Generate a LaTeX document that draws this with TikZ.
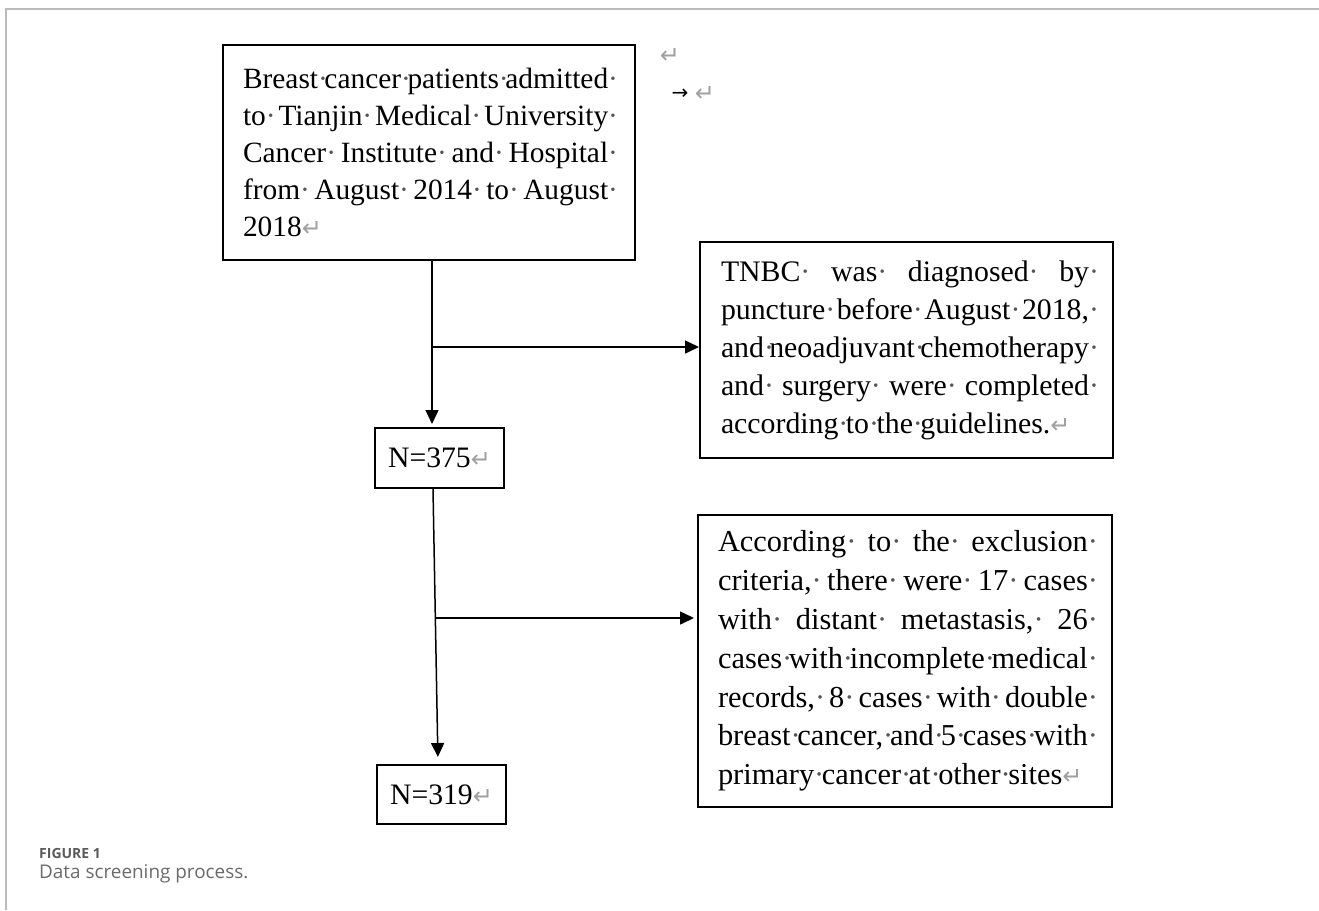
\documentclass[tikz,border=0pt]{standalone}
\usepackage{fontspec}
\setmainfont{Liberation Serif}
\newfontfamily\dejavu{DejaVu Sans}
\newfontfamily\capfont{Open Sans}
\usetikzlibrary{arrows.meta}
\definecolor{dotgray}{HTML}{555555}
\definecolor{retgray}{HTML}{A0A0A0}
\definecolor{framegray}{HTML}{BBBBBB}
\definecolor{capgray}{HTML}{5A5A5A}
\definecolor{capgrayb}{HTML}{6A6A6A}
\newcommand\wsp{\rlap{\textcolor{dotgray}{·}}\ }
\newcommand\wend{\textcolor{dotgray}{·}}
\newcommand\ret{{\dejavu\fontsize{24}{24}\selectfont\textcolor{retgray}{↵}}}
\newcommand\jline[1]{\makebox[\linewidth][s]{#1}\\}
\begin{document}
\begin{tikzpicture}[x=1pt,y=-1pt,
  flowbox/.style={draw=black, line width=2pt, inner sep=0pt},
  arr/.style={-{Triangle[length=14pt,width=13pt]}, line width=1.5pt},
  fmtmark/.style={inner sep=0pt, font=\dejavu\fontsize{24}{24}\selectfont},
]
\useasboundingbox (0,0) rectangle (1319,910);
\draw[framegray, line width=1.5pt] (6,910) -- (6,9) -- (1319,9);

\node[flowbox, minimum width=412pt, minimum height=215pt] (box1) at (429,152.5)
{\hspace*{20pt}\parbox[c]{375pt}{\fontsize{29.4}{37.2}\selectfont
\jline{Breast\wsp cancer\wsp patients\wsp admitted\wend}
\jline{to\wsp Tianjin\wsp Medical\wsp University\wend}
\jline{Cancer\wsp Institute\wsp and\wsp Hospital\wend}
\jline{from\wsp August\wsp 2014\wsp to\wsp August\wend}
2018\ret}\hspace*{17pt}};

\node[flowbox, minimum width=413pt, minimum height=216pt] (box2) at (906.5,350)
{\hspace*{21pt}\parbox[c]{378pt}{\fontsize{29.8}{38}\selectfont
\jline{TNBC\wsp was\wsp diagnosed\wsp by\wend}
\jline{puncture\wsp before\wsp August\wsp 2018,\wend}
\jline{and\wsp neoadjuvant\wsp chemotherapy\wend}
\jline{and\wsp surgery\wsp were\wsp completed\wend}
according\wsp to\wsp the\wsp guidelines.\ret}\hspace*{14pt}};

\node[flowbox, minimum width=414pt, minimum height=292pt] (box3) at (905,661)
{\hspace*{20pt}\parbox[c]{380pt}{\fontsize{30.4}{38.8}\selectfont
\jline{According\wsp to\wsp the\wsp exclusion\wend}
\jline{criteria,\wsp there\wsp were\wsp 17\wsp cases\wend}
\jline{with\wsp distant\wsp metastasis,\wsp 26\wend}
\jline{cases\wsp with\wsp incomplete\wsp medical\wend}
\jline{records,\wsp 8\wsp cases\wsp with\wsp double\wend}
\jline{breast\wsp cancer,\wsp and\wsp 5\wsp cases\wsp with\wend}
primary\wsp cancer\wsp at\wsp other\wsp sites\ret}\hspace*{14pt}};

\node[flowbox, minimum width=129pt, minimum height=60pt, font=\fontsize{29.7}{36}\selectfont] (n375) at (439.5,458) {N=375\ret};
\node[flowbox, minimum width=129pt, minimum height=59pt, font=\fontsize{29.7}{36}\selectfont] (n319) at (441.5,794.5) {N=319\ret};

\coordinate (v1) at (432,0);
\coordinate (j1) at (432,347);
\draw[arr, shorten >=3pt] (box1.south -| v1) -- (n375.north -| v1);
\draw[arr] (j1) -- (j1 -| box2.west);

\coordinate (v2a) at (433,0);
\coordinate (v2b) at (438,0);
\coordinate (j2) at (435.5,618);
\draw[arr, shorten >=7pt] (n375.south -| v2a) -- (n319.north -| v2b);
\draw[arr, shorten >=3pt] (j2) -- (j2 -| box3.west);

\node[fmtmark, text=retgray] (ret1) at (670,56) {↵};
\node[fmtmark, font=\dejavu\fontsize{20}{20}\selectfont] (tabm) at (680,94) {→};
\node[fmtmark, text=retgray] (ret2) at (705,94) {↵};

\node[anchor=base west, inner sep=0pt, font=\capfont\bfseries\fontsize{14}{14}\selectfont, text=capgray] (figlbl) at (39,858) {FIGURE 1};
\node[anchor=base west, inner sep=0pt, font=\capfont\fontsize{18.9}{18.9}\selectfont, text=capgrayb] (figcap) at (39,878) {Data screening process.};
\end{tikzpicture}
\end{document}
